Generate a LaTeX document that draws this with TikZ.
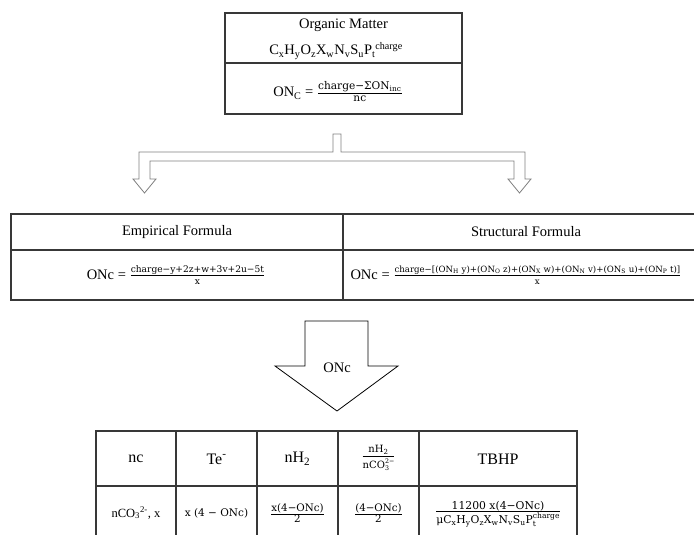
\documentclass[tikz,border=0pt]{standalone}
\usepackage{amsmath}
\usepackage{fontspec}
\setmainfont{Liberation Serif}
\newfontfamily\camf{DejaVu Serif}
\newcommand\cfz[1]{\camf\fontsize{#1}{#1}\selectfont}
\newcommand\frf[4]{\ensuremath{\genfrac{}{}{0.7pt}{#1}{\hbox{\cfz{#2}#3}}{\hbox{\cfz{#2}#4}}}}
\newcommand\sbx[1]{\textsubscript{#1}}
\newcommand\spx[1]{\textsuperscript{#1}}
\newcommand\sbsp[3]{{\cfz{#1}\raisebox{-0.38em}{\rlap{#2}}\raisebox{0.7em}{#3}}}
\begin{document}
\begin{tikzpicture}[x=1pt,y=-1pt,
  tl/.style={draw=black!78, line width=1.4pt},
  cellbox/.style={tl, rectangle, inner sep=0pt, outer sep=0pt},
  tx/.style={inner sep=0pt, font=\fontsize{14.5}{17}\selectfont},
  hx/.style={inner sep=0pt, font=\fontsize{16}{18}\selectfont},
  sx/.style={inner sep=0pt, font=\fontsize{12.5}{14}\selectfont},
  fx/.style={inner sep=0pt},
  arrowline/.style={draw=black!50, line width=0.8pt},
  bigarrow/.style={draw=black, line width=0.8pt}]
\useasboundingbox (0,0) rectangle (694,535);
\clip (0,0) rectangle (694,535);
\fill[white] (0,0) rectangle (694,535);

% top box
\node[cellbox, minimum width=237pt, minimum height=50pt] (omA) at (343.5,38) {};
\node[cellbox, minimum width=237pt, minimum height=51pt] (omB) at (343.5,88.5) {};
\node[tx] (omt) at (343.5,25) {Organic Matter};
\node[tx] (omf) at (336,51) {C\sbx{x}H\sbx{y}O\sbx{z}X\sbx{w}N\sbx{v}S\sbx{u}P\sbx{t}\spx{charge}};
\node[tx] (onc) at (338,92) {ON\sbx{C} = \frf{}{10.6}{charge−ΣON\textsubscript{inc}}{nc}};

% split arrow
\draw[arrowline] (333,134) -- (333,152) -- (139,152) -- (139,179) -- (133,179) -- (144.5,193)
  -- (156,179) -- (150,179) -- (150,161) -- (514,161) -- (514,179) -- (508,179) -- (519.5,193)
  -- (531,179) -- (525,179) -- (525,152) -- (341,152) -- (341,134) -- cycle;

% middle table
\node[cellbox, minimum width=332pt, minimum height=36pt] (empA) at (177,232) {};
\node[cellbox, minimum width=332pt, minimum height=50pt] (empB) at (177,275) {};
\node[cellbox, minimum width=366pt, minimum height=36pt] (strA) at (526,232) {};
\node[cellbox, minimum width=366pt, minimum height=50pt] (strB) at (526,275) {};
\node[tx] (empt) at (177,232) {Empirical Formula};
\node[tx] (strt) at (526,232) {Structural Formula};
\node[tx] (empf) at (176,275) {ONc = \frf{}{9.1}{charge−y+2z+w+3v+2u−5t}{x}};
\node[tx] (strf) at (516,275) {ONc = \frf{}{8.6}{charge−[(ON\sbx{H} y)+(ON\sbx{O} z)+(ON\sbx{X} w)+(ON\sbx{N} v)+(ON\sbx{S} u)+(ON\sbx{P} t)]}{x}};

% big arrow
\draw[bigarrow] (305,321) -- (368,321) -- (368,366) -- (398,366) -- (337,411) -- (275,366) -- (305,366) -- cycle;
\node[tx] (arrt) at (337,368) {ONc};

% bottom table
\node[cellbox, minimum width=80pt, minimum height=55pt] (c1a) at (136,458.5) {};
\node[cellbox, minimum width=81pt, minimum height=55pt] (c2a) at (216.5,458.5) {};
\node[cellbox, minimum width=81pt, minimum height=55pt] (c3a) at (297.5,458.5) {};
\node[cellbox, minimum width=81pt, minimum height=55pt] (c4a) at (378.5,458.5) {};
\node[cellbox, minimum width=158pt, minimum height=55pt] (c5a) at (498,458.5) {};
\node[cellbox, minimum width=80pt, minimum height=60pt] (c1b) at (136,516) {};
\node[cellbox, minimum width=81pt, minimum height=60pt] (c2b) at (216.5,516) {};
\node[cellbox, minimum width=81pt, minimum height=60pt] (c3b) at (297.5,516) {};
\node[cellbox, minimum width=81pt, minimum height=60pt] (c4b) at (378.5,516) {};
\node[cellbox, minimum width=158pt, minimum height=60pt] (c5b) at (498,516) {};

\node[hx] (h1) at (136,459) {nc};
\node[hx] (h2) at (216.5,459) {Te\spx{-}};
\node[hx] (h3) at (297.5,459) {nH\sbx{2}};
\node[fx] (h4) at (378.5,458) {\frf{0}{10}{nH\textsubscript{2}}{nCO\sbsp{6.3}{3}{2−}}};
\node[hx] (h5) at (498,459) {TBHP};

\node[sx] (r1) at (136,513) {nCO\sbx{3}\spx{2-}, x};
\node[fx] (r2) at (216.5,513) {\cfz{10.5}x (4 − ONc)};
\node[fx] (r3) at (297.5,513) {\frf{}{10.3}{x(4−ONc)}{2}};
\node[fx] (r4) at (378.5,513) {\frf{}{10.3}{(4−ONc)}{2}};
\node[fx] (r5) at (498,514) {\frf{}{10.8}{11200 x(4−ONc)}{μC\sbx{x}H\sbx{y}O\sbx{z}X\sbx{w}N\sbx{v}S\sbx{u}P\sbsp{7.6}{t}{charge}}};
\end{tikzpicture}
\end{document}
